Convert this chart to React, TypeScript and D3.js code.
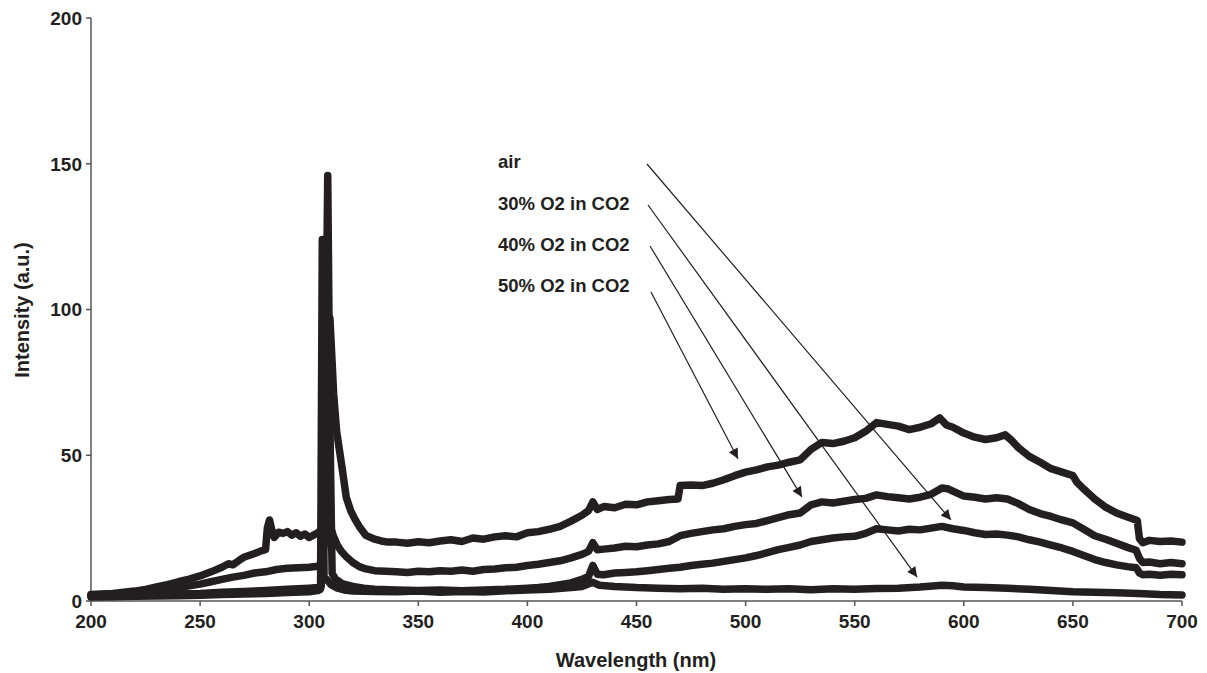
import React from "react";
import * as d3 from "d3";

// [wavelength nm, intensity a.u.]
const series50: [number, number][] = [
  [200,2.2],[205,2.4],[210,2.6],[215,3.0],[220,3.4],[225,4.0],[230,4.8],[235,5.6],[240,6.6],[245,7.5],[250,8.6],[255,10.0],[260,11.6],[263,12.8],[265,12.4],[268,14.0],[270,15.0],[273,15.8],[275,16.3],[278,17.2],[280,17.6],[280.8,25],[281.8,27.8],[283,24],[284,21.8],[286,23.6],[288,23.2],[290,23.8],[292,22.6],[294,23.4],[296,22.2],[298,23],[300,21.8],[302,22.6],[304,23.4],[305.5,24.5],[307,30],[308.5,60],[309.5,97],[310.5,82],[311.2,71],[312.6,58],[313.8,52],[315,46],[317,35.5],[319,31],[321,28],[323,25.5],[326,22.5],[330,21.2],[333,20.6],[336,20.2],[340,20.2],[345,19.8],[350,20.3],[355,20.0],[360,20.6],[365,21.0],[370,20.4],[375,21.6],[380,21.2],[385,22.0],[390,22.4],[395,22.0],[400,23.4],[405,23.8],[410,24.6],[415,25.6],[420,27.4],[425,29.4],[428,31.0],[430,34.0],[432,31.4],[435,32.4],[440,32.0],[445,33.2],[450,33.0],[455,34.0],[460,34.4],[465,34.8],[469,35.0],[470,39.6],[475,39.8],[480,39.6],[485,40.4],[490,41.6],[495,43.0],[500,44.2],[505,45.0],[510,46.0],[515,46.6],[520,47.6],[525,48.4],[530,52.0],[535,54.4],[540,54.0],[545,54.8],[550,56.0],[555,58.2],[560,61.2],[565,60.6],[570,60.0],[575,58.8],[580,59.6],[585,60.8],[589,62.8],[592,60.4],[595,59.6],[600,57.6],[605,56.2],[610,55.4],[615,56.0],[619,57.0],[622,55.0],[625,52.6],[630,49.6],[635,47.6],[640,45.4],[645,44.2],[650,43.0],[652,40.6],[655,38.4],[660,35.0],[665,32.2],[670,30.2],[675,28.8],[679.5,27.6],[680.5,21.4],[682,20.0],[685,20.8],[690,20.4],[695,20.6],[700,20.2],
];

const series40: [number, number][] = [
  [200,2.0],[205,2.2],[210,2.4],[215,2.7],[220,3.0],[225,3.3],[230,3.7],[235,4.1],[240,4.6],[245,5.2],[250,5.8],[255,6.6],[260,7.4],[265,8.2],[270,8.8],[275,9.6],[280,10.0],[285,10.8],[290,11.2],[295,11.4],[300,11.6],[303,11.8],[305.5,12.4],[307,20],[308.5,29.5],[309.5,26],[311,22.5],[313,19],[315,16.8],[317,15.2],[320,13.2],[323,11.8],[326,11.0],[330,10.4],[335,10.2],[340,10.0],[345,9.8],[350,10.2],[355,10.0],[360,10.4],[365,10.2],[370,10.6],[375,10.2],[380,10.8],[385,11.0],[390,11.4],[395,11.6],[400,12.2],[405,12.6],[410,13.2],[415,13.8],[420,14.8],[425,16.0],[428,17.0],[430,20.0],[432,17.6],[435,17.8],[440,18.2],[445,18.8],[450,18.6],[455,19.2],[460,19.6],[465,20.4],[470,22.4],[475,23.2],[480,23.8],[485,24.4],[490,24.8],[495,25.6],[500,26.2],[505,26.6],[510,27.6],[515,28.6],[520,29.6],[525,30.2],[530,33.0],[535,34.0],[540,33.6],[545,34.2],[550,34.8],[555,35.2],[560,36.4],[565,35.8],[570,35.4],[575,35.0],[580,35.6],[585,36.6],[590,38.8],[593,38.4],[597,37.0],[600,36.0],[605,35.6],[610,35.0],[615,35.4],[620,35.0],[625,33.4],[630,31.4],[635,30.0],[640,29.0],[645,27.8],[650,26.8],[655,24.6],[660,22.4],[665,21.2],[670,19.8],[675,18.4],[679,17.4],[680.5,14.6],[682,13.2],[685,13.4],[690,12.8],[695,13.2],[700,12.8],
];

const seriesAir: [number, number][] = [
  [200,1.6],[210,1.8],[220,2.0],[230,2.2],[240,2.4],[250,2.6],[260,3.0],[270,3.3],[280,3.6],[290,4.0],[300,4.4],[304,4.6],[305.5,5.0],[307,40],[308.5,146],[309.5,60],[310.5,9.5],[312,7.6],[315,6.0],[320,5.0],[325,4.4],[330,4.0],[340,3.8],[350,3.6],[360,3.8],[370,3.5],[380,3.8],[390,4.0],[400,4.4],[405,4.6],[410,5.0],[415,5.6],[420,6.2],[425,7.4],[428,8.4],[430,12.2],[432,9.2],[435,9.0],[440,9.6],[445,9.8],[450,10.0],[455,10.4],[460,10.8],[465,11.2],[470,11.6],[475,12.2],[480,12.6],[485,13.0],[490,13.6],[495,14.2],[500,14.8],[505,15.6],[510,16.6],[515,17.6],[520,18.4],[525,19.2],[530,20.4],[535,21.0],[540,21.6],[545,22.0],[550,22.2],[555,23.2],[560,24.8],[565,24.4],[570,24.0],[575,24.6],[580,24.4],[585,25.0],[590,25.6],[595,24.8],[600,24.2],[605,23.4],[610,22.8],[615,23.0],[620,22.6],[625,22.0],[630,21.0],[635,20.2],[640,19.2],[645,18.2],[650,17.0],[655,15.6],[660,14.2],[665,13.2],[670,12.4],[675,11.8],[679,11.4],[680.5,9.6],[682,9.0],[685,9.2],[690,8.8],[695,9.2],[700,9.0],
];

const series30: [number, number][] = [
  [200,1.4],[210,1.5],[220,1.6],[230,1.7],[240,1.8],[250,2.0],[260,2.2],[270,2.4],[280,2.6],[290,2.9],[300,3.2],[304,3.6],[305.2,4],[306,124],[306.8,8],[308,7.4],[310,5.6],[313,4.4],[316,3.8],[320,3.4],[330,3.3],[340,3.2],[350,3.4],[360,3.0],[370,3.3],[380,3.1],[390,3.5],[400,3.8],[410,4.0],[420,4.6],[425,5.0],[430,6.4],[433,5.4],[440,5.0],[450,4.6],[460,4.4],[470,4.2],[480,4.4],[490,4.0],[500,4.2],[510,4.0],[520,4.2],[530,3.9],[540,4.2],[550,4.0],[560,4.3],[570,4.4],[580,4.8],[590,5.4],[595,5.2],[600,4.8],[610,4.6],[620,4.4],[630,4.0],[640,3.6],[650,3.2],[660,3.0],[670,2.8],[680,2.6],[690,2.2],[700,2.1],
];

const xTicks = [200, 250, 300, 350, 400, 450, 500, 550, 600, 650, 700];
const yTicks = [0, 50, 100, 150, 200];

const legendLabels = ["air", "30% O2 in CO2", "40% O2 in CO2", "50% O2 in CO2"];
// where each arrow points: [wavelength, intensity]
const arrowTargets: [number, number][] = [
  [594.1, 27.8],
  [578.6, 8.2],
  [525.8, 35.7],
  [496.5, 48.8],
];

const W = 1207, H = 673;
const INK = "#231f20";

export default function App() {
  const x = d3.scaleLinear().domain([200, 700]).range([91, 1182]);
  const y = d3.scaleLinear().domain([0, 200]).range([601, 18]);
  const line = d3.line<[number, number]>().x(d => x(d[0])).y(d => y(d[1]));
  const all = [seriesAir, series30, series40, series50];
  const font = "'Liberation Sans', Arial, sans-serif";
  const legendY = [168, 210, 251, 292];
  const arrowStart: [number, number][] = [[647, 164], [648, 205], [650, 246], [651, 292]];
  return (
    <svg width={W} height={H} style={{ position: "absolute", left: 0, top: 0, background: "#fff" }} fontFamily={font}>
      <defs>
        <marker id="ah" viewBox="0 0 10 10" refX="10" refY="5" markerWidth="14" markerHeight="10" markerUnits="userSpaceOnUse" orient="auto">
          <path d="M0,0 L10,5 L0,10 z" fill={INK} />
        </marker>
      </defs>
      {/* axes */}
      <line x1={91} x2={91} y1={y(200)} y2={y(0)} stroke="#555" strokeWidth={1.5} />
      <line x1={91} x2={1182} y1={y(0)} y2={y(0)} stroke="#555" strokeWidth={1.5} />
      {yTicks.map(t => (
        <g key={"y" + t}>
          <line x1={86} x2={91} y1={y(t)} y2={y(t)} stroke="#555" strokeWidth={1.5} />
          <text x={82} y={y(t)} dy="0.36em" textAnchor="end" fontSize={19} fontWeight="bold" fill={INK}>{t}</text>
        </g>
      ))}
      {xTicks.map(t => (
        <g key={"x" + t}>
          <line x1={x(t)} x2={x(t)} y1={601} y2={606} stroke="#555" strokeWidth={1.5} />
          <text x={x(t)} y={628} textAnchor="middle" fontSize={19} fontWeight="bold" fill={INK}>{t}</text>
        </g>
      ))}
      <text x={636} y={667} textAnchor="middle" fontSize={20} fontWeight="bold" fill={INK}>Wavelength (nm)</text>
      <text transform={`translate(29,310) rotate(-90)`} textAnchor="middle" fontSize={20} fontWeight="bold" fill={INK}>Intensity (a.u.)</text>
      {/* curves */}
      {all.map((s, i) => (
        <path key={i} d={line(s) || ""} fill="none" stroke={INK} strokeWidth={7.5} strokeLinejoin="round" strokeLinecap="round" />
      ))}
      {/* legend labels and arrows */}
      {legendLabels.map((l, i) => (
        <g key={l}>
          <text x={498} y={legendY[i]} fontSize={18.5} fontWeight="bold" fill={INK}>{l}</text>
          <line x1={arrowStart[i][0]} y1={arrowStart[i][1]} x2={x(arrowTargets[i][0])} y2={y(arrowTargets[i][1])} stroke={INK} strokeWidth={1.2} markerEnd="url(#ah)" />
        </g>
      ))}
    </svg>
  );
}
